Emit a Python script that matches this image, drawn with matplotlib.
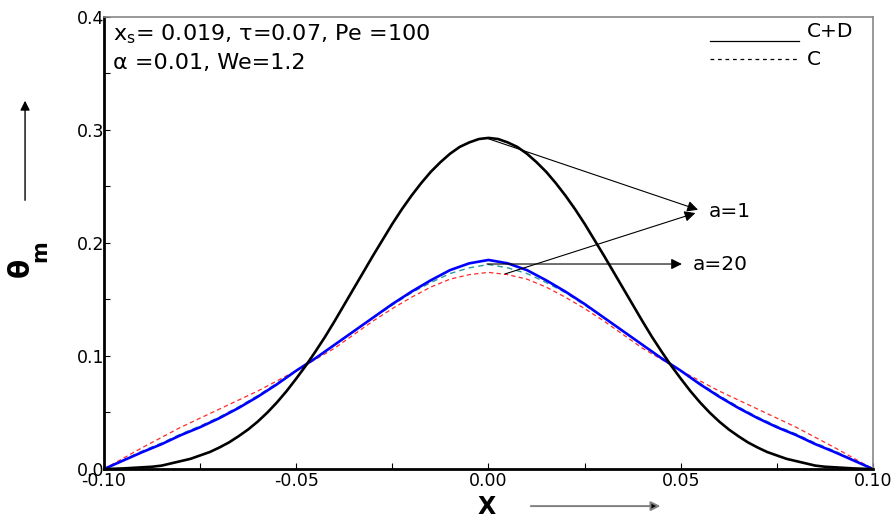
import matplotlib
matplotlib.use("Agg")
import matplotlib.pyplot as plt
from matplotlib.ticker import MultipleLocator, FormatStrFormatter

# posiciones x (paso 0.005)
x = [-0.100, -0.095, -0.090, -0.085, -0.080, -0.075, -0.070, -0.065, -0.060, -0.055,
     -0.050, -0.045, -0.040, -0.035, -0.030, -0.025, -0.020, -0.015, -0.010, -0.005,
     0.000, 0.005, 0.010, 0.015, 0.020, 0.025, 0.030, 0.035, 0.040, 0.045,
     0.050, 0.055, 0.060, 0.065, 0.070, 0.075, 0.080, 0.085, 0.090, 0.095, 0.100]

# posiciones x más finas para la curva negra (paso 0.0025)
x_fino = [-0.1000, -0.0975, -0.0950, -0.0925, -0.0900, -0.0875, -0.0850, -0.0825,
          -0.0800, -0.0775, -0.0750, -0.0725, -0.0700, -0.0675, -0.0650, -0.0625,
          -0.0600, -0.0575, -0.0550, -0.0525, -0.0500, -0.0475, -0.0450, -0.0425,
          -0.0400, -0.0375, -0.0350, -0.0325, -0.0300, -0.0275, -0.0250, -0.0225,
          -0.0200, -0.0175, -0.0150, -0.0125, -0.0100, -0.0075, -0.0050, -0.0025,
          0.0000, 0.0025, 0.0050, 0.0075, 0.0100, 0.0125, 0.0150, 0.0175,
          0.0200, 0.0225, 0.0250, 0.0275, 0.0300, 0.0325, 0.0350, 0.0375,
          0.0400, 0.0425, 0.0450, 0.0475, 0.0500, 0.0525, 0.0550, 0.0575,
          0.0600, 0.0625, 0.0650, 0.0675, 0.0700, 0.0725, 0.0750, 0.0775,
          0.0800, 0.0825, 0.0850, 0.0875, 0.0900, 0.0925, 0.0950, 0.0975, 0.1000]

# a=1, C+D (negra)
theta_a1 = [0.0, 0.0002, 0.0005, 0.001, 0.0015, 0.002, 0.003, 0.005,
            0.007, 0.009, 0.012, 0.015, 0.019, 0.0235, 0.029, 0.035,
            0.042, 0.050, 0.059, 0.069, 0.080, 0.0915, 0.104, 0.117,
            0.131, 0.1455, 0.160, 0.1745, 0.189, 0.203, 0.217, 0.230,
            0.242, 0.253, 0.263, 0.2715, 0.279, 0.285, 0.289, 0.292,
            0.293, 0.292, 0.289, 0.285, 0.279, 0.2715, 0.263, 0.253,
            0.242, 0.230, 0.217, 0.203, 0.189, 0.1745, 0.160, 0.1455,
            0.131, 0.117, 0.104, 0.0915, 0.080, 0.069, 0.059, 0.050,
            0.042, 0.035, 0.029, 0.0235, 0.019, 0.015, 0.012, 0.009,
            0.007, 0.005, 0.003, 0.002, 0.0015, 0.001, 0.0005, 0.0002, 0.0]

# a=20, C+D (azul)
theta_a20 = [0.0, 0.0075, 0.015, 0.022, 0.030, 0.037, 0.045, 0.054, 0.064, 0.075,
             0.087, 0.098, 0.110, 0.122, 0.134, 0.146, 0.157, 0.167, 0.176, 0.182,
             0.185, 0.182, 0.176, 0.167, 0.157, 0.146, 0.134, 0.122, 0.110, 0.098,
             0.087, 0.075, 0.064, 0.054, 0.045, 0.037, 0.030, 0.022, 0.015, 0.0075, 0.0]

# discontinua verde-azulada
theta_teal = [0.0, 0.008, 0.016, 0.023, 0.031, 0.038, 0.046, 0.055, 0.065, 0.076,
              0.087, 0.098, 0.110, 0.122, 0.134, 0.145, 0.156, 0.165, 0.173, 0.178,
              0.181, 0.178, 0.173, 0.165, 0.156, 0.145, 0.134, 0.122, 0.110, 0.098,
              0.087, 0.076, 0.065, 0.055, 0.046, 0.038, 0.031, 0.023, 0.016, 0.008, 0.0]

# discontinua roja (C)
theta_c = [0.0, 0.0095, 0.019, 0.028, 0.037, 0.045, 0.053, 0.061, 0.069, 0.078,
           0.087, 0.097, 0.107, 0.119, 0.131, 0.142, 0.152, 0.161, 0.168, 0.172,
           0.174, 0.172, 0.168, 0.161, 0.152, 0.142, 0.131, 0.119, 0.107, 0.097,
           0.087, 0.078, 0.069, 0.061, 0.053, 0.045, 0.037, 0.028, 0.019, 0.0095, 0.0]

fig = plt.figure(figsize=(8.95, 5.18), dpi=100)
ax = fig.add_axes([0.1162, 0.0946, 0.8592, 0.8726])

ax.plot(x, theta_c, color="#ff2a2a", lw=0.9, ls=(0, (3.5, 2.5)))
ax.plot(x, theta_teal, color="#2a9a9a", lw=1.0, ls=(0, (4, 3)))
ax.plot(x, theta_a20, color="#0000ff", lw=1.9, solid_joinstyle="round")
ax.plot(x_fino, theta_a1, color="black", lw=1.9, solid_joinstyle="round")

ax.set_xlim(-0.1, 0.1)
ax.set_ylim(0, 0.4)
ax.xaxis.set_major_locator(MultipleLocator(0.05))
ax.xaxis.set_minor_locator(MultipleLocator(0.025))
ax.yaxis.set_major_locator(MultipleLocator(0.1))
ax.yaxis.set_minor_locator(MultipleLocator(0.05))
ax.xaxis.set_major_formatter(FormatStrFormatter("%.2f"))
ax.yaxis.set_major_formatter(FormatStrFormatter("%.1f"))
ax.tick_params(which="both", direction="in", length=4, width=0.8, labelsize=12.5)
ax.tick_params(axis="y", pad=0)
ax.tick_params(axis="x", pad=2)

for s in ("left", "bottom"):
    ax.spines[s].set_linewidth(2.0)
    ax.spines[s].set_color("black")
for s in ("top", "right"):
    ax.spines[s].set_linewidth(1.2)
    ax.spines[s].set_color("#888888")

# textos de parámetros
ax.text(0.012, 0.962, r"x$_{\rm s}$= 0.019, τ=0.07, Pe =100", transform=ax.transAxes,
        fontsize=16, va="center", ha="left")
ax.text(0.012, 0.898, "α =0.01, We=1.2", transform=ax.transAxes,
        fontsize=16, va="center", ha="left")

# leyenda a mano
ax.plot([0.788, 0.904], [0.947, 0.947], transform=ax.transAxes, color="black", lw=0.9)
ax.plot([0.788, 0.904], [0.907, 0.907], transform=ax.transAxes, color="black", lw=0.9,
        ls=(0, (3, 3)))
ax.text(0.914, 0.967, "C+D", transform=ax.transAxes, fontsize=14.5, va="center", ha="left")
ax.text(0.914, 0.905, "C", transform=ax.transAxes, fontsize=14.5, va="center", ha="left")

# flechas a=1 y a=20
arr = dict(arrowstyle="-|>", mutation_scale=16, lw=0.8, color="black", shrinkA=0, shrinkB=0)
ax.annotate("", xy=(0.0545, 0.2294), xytext=(-0.0006, 0.2929), arrowprops=arr)
ax.annotate("", xy=(0.0538, 0.2265), xytext=(0.0043, 0.1726), arrowprops=arr)
ax.annotate("", xy=(0.0503, 0.1814), xytext=(-0.0004, 0.1814), arrowprops=arr)
ax.text(0.0572, 0.2275, "a=1", fontsize=14.5, va="center", ha="left")
ax.text(0.0530, 0.1814, "a=20", fontsize=14.5, va="center", ha="left")

# etiquetas de ejes con flechas
fig.text(0.0235, 0.4836, "θ", rotation=90, fontsize=20, fontweight="bold",
         ha="center", va="center")
fig.text(0.0455, 0.5145, "m", rotation=90, fontsize=15, fontweight="bold",
         ha="center", va="center")
fig.patches.append(matplotlib.patches.FancyArrowPatch(
    (0.028, 0.608), (0.028, 0.811), transform=fig.transFigure, arrowstyle="-|>",
    mutation_scale=14, lw=1.0, color="black"))
fig.text(0.544, 0.021, "X", fontsize=17, fontweight="bold", ha="center", va="center")
fig.patches.append(matplotlib.patches.FancyArrowPatch(
    (0.590, 0.023), (0.741, 0.023), transform=fig.transFigure, arrowstyle="-|>",
    mutation_scale=14, lw=1.4, ec="#808080", fc="black"))

fig.savefig("out.png", dpi=100)
